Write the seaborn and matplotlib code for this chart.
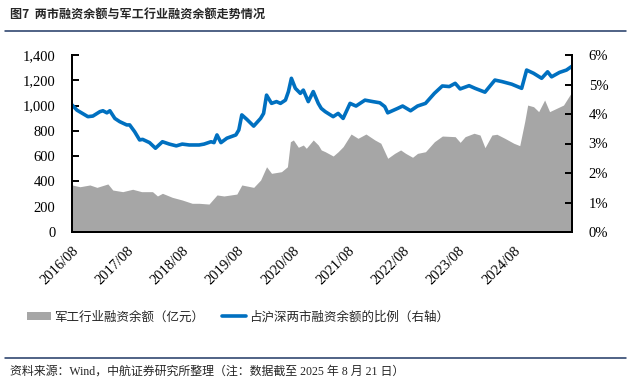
import matplotlib
matplotlib.use("Agg")
import matplotlib.pyplot as plt
from matplotlib.patches import Patch
from matplotlib.lines import Line2D
from matplotlib.ticker import FuncFormatter
import seaborn as sns
import pandas as pd

# ---- data; time given as fractional year ----
area_time = [2016.583, 2016.727, 2016.907, 2017.033, 2017.231, 2017.320, 2017.500,
             2017.680, 2017.842, 2018.040, 2018.130, 2018.220, 2018.400, 2018.579,
             2018.759, 2018.885, 2019.065, 2019.209, 2019.335, 2019.569, 2019.659,
             2019.874, 2020.000, 2020.108, 2020.198, 2020.378, 2020.486, 2020.540,
             2020.594, 2020.684, 2020.774, 2020.828, 2020.954, 2021.043, 2021.097,
             2021.169, 2021.313, 2021.403, 2021.493, 2021.637, 2021.763, 2021.907,
             2022.069, 2022.177, 2022.302, 2022.428, 2022.536, 2022.626, 2022.752,
             2022.842, 2022.986, 2023.148, 2023.292, 2023.525, 2023.615, 2023.705,
             2023.867, 2023.975, 2024.065, 2024.191, 2024.281, 2024.425, 2024.587,
             2024.695, 2024.785, 2024.839, 2024.946, 2025.036, 2025.144, 2025.234,
             2025.360, 2025.486, 2025.640]
area_values = [372, 358, 372, 353, 380, 332, 319,
               338, 319, 319, 285, 306, 274, 253,
               227, 227, 221, 293, 285, 300, 372,
               353, 411, 516, 464, 477, 516, 714,
               728, 670, 688, 662, 728, 688, 649,
               635, 601, 635, 675, 775, 741, 775,
               728, 702, 583, 622, 649, 622, 591,
               622, 635, 714, 759, 754, 709, 754,
               781, 767, 667, 767, 773, 741, 702,
               683, 873, 1004, 991, 952, 1044, 952,
               978, 1004, 1110]

ratio_time = [2016.583, 2016.673, 2016.871, 2016.961, 2017.087, 2017.141, 2017.213,
              2017.267, 2017.357, 2017.446, 2017.572, 2017.626, 2017.716, 2017.806,
              2017.860, 2017.986, 2018.094, 2018.220, 2018.346, 2018.472, 2018.579,
              2018.705, 2018.885, 2018.975, 2019.101, 2019.155, 2019.209, 2019.281,
              2019.389, 2019.551, 2019.605, 2019.659, 2019.749, 2019.874, 2020.000,
              2020.054, 2020.108, 2020.198, 2020.288, 2020.360, 2020.450, 2020.504,
              2020.558, 2020.630, 2020.720, 2020.774, 2020.864, 2020.954, 2021.043,
              2021.097, 2021.169, 2021.313, 2021.403, 2021.493, 2021.619, 2021.727,
              2021.889, 2022.033, 2022.159, 2022.249, 2022.302, 2022.482, 2022.572,
              2022.716, 2022.842, 2022.986, 2023.148, 2023.292, 2023.418, 2023.525,
              2023.615, 2023.777, 2023.885, 2024.065, 2024.245, 2024.371, 2024.551,
              2024.730, 2024.820, 2024.946, 2025.090, 2025.198, 2025.270, 2025.414,
              2025.540, 2025.640]
ratio_values = [4.31, 4.13, 3.91, 3.93, 4.08, 4.11, 4.04,
                4.11, 3.85, 3.74, 3.63, 3.63, 3.40, 3.12,
                3.14, 3.03, 2.84, 3.06, 2.98, 2.92, 2.98,
                2.95, 2.95, 2.98, 3.06, 3.03, 3.29, 3.03,
                3.18, 3.29, 3.46, 3.97, 3.82, 3.59, 3.85,
                4.02, 4.64, 4.36, 4.42, 4.36, 4.47, 4.76,
                5.21, 4.87, 4.70, 4.81, 4.42, 4.76, 4.36,
                4.19, 4.08, 3.91, 4.02, 3.85, 4.36, 4.27,
                4.47, 4.42, 4.38, 4.25, 4.04, 4.19, 4.27,
                4.11, 4.27, 4.36, 4.70, 4.95, 4.93, 5.04,
                4.85, 4.96, 4.87, 4.74, 5.15, 5.10, 5.01,
                4.87, 5.49, 5.38, 5.21, 5.43, 5.26, 5.41,
                5.49, 5.62]

tick_labels = ["2016/08", "2017/08", "2018/08", "2019/08", "2020/08",
               "2021/08", "2022/08", "2023/08", "2024/08"]

area_label = "军工行业融资余额（亿元）"
line_label = "占沪深两市融资余额的比例（右轴）"
title = "图7  两市融资余额与军工行业融资余额走势情况"
source = "资料来源：Wind，中航证券研究所整理（注：数据截至 2025 年 8 月 21 日）"


def to_date(t):
    y = int(t)
    return pd.Timestamp(year=y, month=1, day=1) + pd.Timedelta(days=(t - y) * 365.25)


# ---- styling ----
sns.set_style("ticks")
plt.rcParams["font.family"] = ["Liberation Serif", "Noto Sans CJK SC", "DejaVu Sans"]
plt.rcParams["axes.linewidth"] = 1.4

GRAY = "#A6A6A6"
BLUE = "#0070C0"
NAVY = "#1F3864"

area_df = pd.DataFrame({"date": [to_date(t) for t in area_time], "value": area_values})
ratio_df = pd.DataFrame({"date": [to_date(t) for t in ratio_time], "ratio": ratio_values})

fig = plt.figure(figsize=(6.31, 3.85), dpi=100)
ax = fig.add_axes([72 / 631, 1 - 232 / 385, 500 / 631, 177 / 385])
ax2 = ax.twinx()

ax.fill_between(area_df["date"], 0, area_df["value"], color=GRAY, linewidth=0)
sns.lineplot(data=ratio_df, x="date", y="ratio", ax=ax2, color=BLUE, linewidth=2.6)

ax.set_xlim(area_df["date"].iloc[0], area_df["date"].iloc[-1])
ax.set_ylim(0, 1400)
ax.set_yticks(range(0, 1401, 200))
ax.yaxis.set_major_formatter(FuncFormatter(lambda v, p: f"{int(v):,}"))
ax2.set_ylim(0, 6)
ax2.set_yticks(range(0, 7))
ax2.yaxis.set_major_formatter(FuncFormatter(lambda v, p: f"{int(v)}%"))
for a in (ax, ax2):
    a.set_xlabel("")
    a.set_ylabel("")

tick_pos = pd.to_datetime([s.replace("/", "-") + "-01" for s in tick_labels])
ax.set_xticks(tick_pos)
ax.set_xticklabels(tick_labels, rotation=45, ha="right", va="top",
                   rotation_mode="anchor")

for a in (ax, ax2):
    a.tick_params(direction="in", length=5, width=1.4, labelsize=10.5,
                  colors="black")
    for s in a.spines.values():
        s.set_color("black")
        s.set_linewidth(1.4)
ax.tick_params(axis="y", pad=12)
ax2.tick_params(axis="y", pad=12)
ax.tick_params(axis="x", pad=9)
ax2.spines["top"].set_visible(False)
ax.spines["top"].set_visible(False)

# title and rules
fig.text(10 / 631, 1 - 15 / 385, title, fontsize=8.7, fontweight="bold",
         family=["Noto Sans CJK SC", "DejaVu Sans"], va="center", ha="left")
fig.add_artist(Line2D([5 / 631, 626 / 631], [1 - 31 / 385] * 2, color=NAVY, lw=1.1))
fig.add_artist(Line2D([5 / 631, 626 / 631], [1 - 358 / 385] * 2, color=NAVY, lw=1.1))
fig.text(10 / 631, 1 - 372 / 385, source, fontsize=8.6, va="center", ha="left",
         family=["Liberation Serif", "Noto Sans CJK SC"])

handles = [Patch(facecolor=GRAY, edgecolor="none", label=area_label),
           Line2D([0], [0], color=BLUE, lw=2.6, label=line_label)]
fig.legend(handles=handles, loc="center", bbox_to_anchor=(238 / 631, 1 - 317 / 385),
           ncol=2, frameon=False, handlelength=1.9, handleheight=0.6,
           handletextpad=0.2, columnspacing=1.5,
           prop={"family": ["Noto Sans CJK SC", "DejaVu Sans"], "size": 9})

fig.savefig("out.png", dpi=100)
